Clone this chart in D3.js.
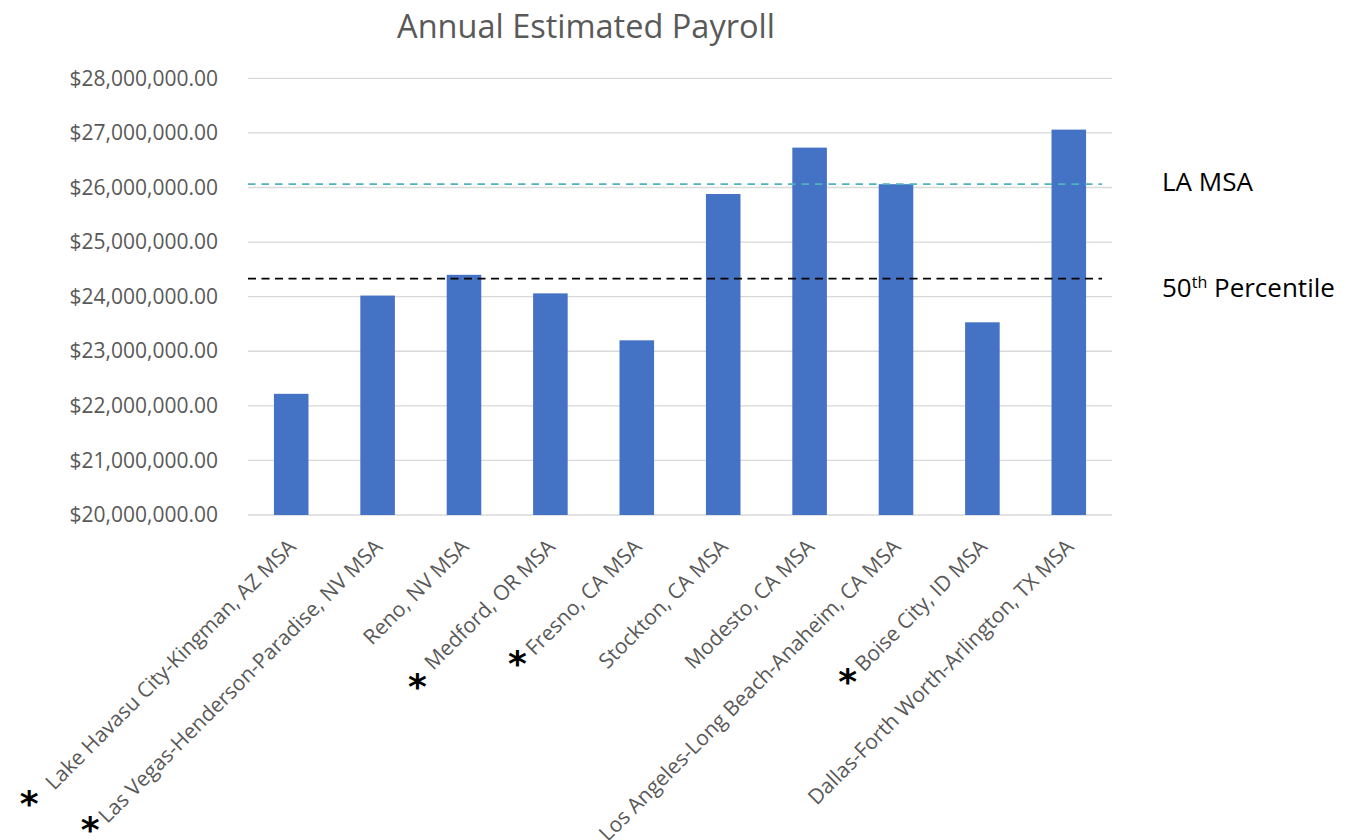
<!DOCTYPE html>
<html>
<head>
<meta charset="utf-8">
<script src="https://cdn.jsdelivr.net/npm/d3@7"></script>
<style>
  html, body { margin: 0; padding: 0; background: #fff; }
  svg { display: block; font-family: "Open Sans", "Noto Sans", sans-serif; }
</style>
</head>
<body>
<svg id="chart" width="1365" height="840"></svg>
<script>
// Metro areas and their annual estimated payroll (USD)
const categories = [
  "Lake Havasu City-Kingman, AZ MSA",
  "Las Vegas-Henderson-Paradise, NV MSA",
  "Reno, NV MSA",
  "Medford, OR MSA",
  "Fresno, CA MSA",
  "Stockton, CA MSA",
  "Modesto, CA MSA",
  "Los Angeles-Long Beach-Anaheim, CA MSA",
  "Boise City, ID MSA",
  "Dallas-Forth Worth-Arlington, TX MSA"
];
const payroll = [
  22220000, 24020000, 24400000, 24060000, 23200000,
  25880000, 26730000, 26060000, 23530000, 27060000
];
// Reference levels drawn as dashed lines
const laMsaLevel = 26060000;
const percentile50Level = 24330000;
// Areas marked with an asterisk
const flagged = [
  "Lake Havasu City-Kingman, AZ MSA",
  "Las Vegas-Henderson-Paradise, NV MSA",
  "Medford, OR MSA",
  "Fresno, CA MSA",
  "Boise City, ID MSA"
];
const yTicks = [20000000, 21000000, 22000000, 23000000, 24000000,
                25000000, 26000000, 27000000, 28000000];
const titleText = "Annual Estimated Payroll";

const svg = d3.select("#chart");
const plot = { left: 248, right: 1112, top: 78.3, bottom: 515 };

const x = d3.scaleBand()
  .domain(categories)
  .range([plot.left, plot.right])
  .paddingInner(0.6)
  .paddingOuter(0.3);

const y = d3.scaleLinear()
  .domain([20000000, 28000000])
  .range([plot.bottom, plot.top]);

// Title
svg.append("text")
  .attr("x", 586)
  .attr("y", 38)
  .attr("text-anchor", "middle")
  .attr("fill", "#595959")
  .style("font-size", "32.5px")
  .text(titleText);

// Horizontal gridlines
svg.append("g")
  .selectAll("line")
  .data(yTicks)
  .join("line")
  .attr("x1", plot.left)
  .attr("x2", plot.right)
  .attr("y1", d => y(d))
  .attr("y2", d => y(d))
  .attr("stroke", "#D9D9D9")
  .attr("stroke-width", 1.3);

// Y axis labels
const yAxis = svg.append("g")
  .attr("transform", `translate(${plot.left - 30},0)`)
  .call(d3.axisLeft(y).tickValues(yTicks).tickFormat(d3.format("$,.2f")).tickSize(0).tickPadding(0));
yAxis.select(".domain").remove();
yAxis.selectAll("text")
  .attr("fill", "#595959")
  .style("font-size", "21px")
  .style("font-family", "'Open Sans', sans-serif");

// Bars
svg.append("g")
  .selectAll("rect")
  .data(categories.map((c, i) => ({ c, v: payroll[i] })))
  .join("rect")
  .attr("x", d => x(d.c))
  .attr("width", x.bandwidth())
  .attr("y", d => y(d.v))
  .attr("height", d => y(20000000) - y(d.v))
  .attr("fill", "#4472C4");

// Reference lines
const refLines = [
  { v: laMsaLevel, color: "#4FB3BF", dash: "7.5,6" },
  { v: percentile50Level, color: "#000000", dash: "8,5.5" }
];
svg.append("g")
  .selectAll("line")
  .data(refLines)
  .join("line")
  .attr("x1", plot.left)
  .attr("x2", 1102)
  .attr("y1", d => y(d.v))
  .attr("y2", d => y(d.v))
  .attr("stroke", d => d.color)
  .attr("stroke-width", 1.8)
  .attr("stroke-dasharray", d => d.dash);

// Reference line labels
svg.append("text")
  .attr("x", 1162)
  .attr("y", y(laMsaLevel) + 7)
  .attr("fill", "#000")
  .style("font-size", "26px")
  .text("LA MSA");

const pct = svg.append("text")
  .attr("x", 1162)
  .attr("y", y(percentile50Level) + 18)
  .attr("fill", "#000")
  .style("font-size", "26px");
pct.append("tspan").text("50");
pct.append("tspan").attr("dy", -9).style("font-size", "16px").text("th");
pct.append("tspan").attr("dy", 9).text(" Percentile");

// Category labels, rotated
const xAxis = svg.append("g")
  .attr("transform", `translate(0,${plot.bottom})`)
  .call(d3.axisBottom(x).tickSize(0).tickPadding(0));
xAxis.select(".domain").remove();
xAxis.selectAll("text")
  .attr("fill", "#595959")
  .style("font-size", "21px")
  .style("font-family", "'Open Sans', sans-serif")
  .attr("text-anchor", "end")
  .attr("dy", 0)
  .attr("y", 0)
  .attr("transform", "translate(6,33) rotate(-45)");

// Asterisks placed just before the start of each flagged label
const nudge = {
  "Lake Havasu City-Kingman, AZ MSA": [-25, 5],
  "Las Vegas-Henderson-Paradise, NV MSA": [-17, -2],
  "Medford, OR MSA": [-16, 8],
  "Fresno, CA MSA": [-17, 0],
  "Boise City, ID MSA": [-16, 1]
};
xAxis.selectAll(".tick").each(function(d) {
  if (!flagged.includes(d)) return;
  const t = d3.select(this).select("text").node();
  const len = t.getComputedTextLength();
  const cx = x(d) + x.bandwidth() / 2 + 6 - len * Math.SQRT1_2;
  const cy = plot.bottom + 33 + len * Math.SQRT1_2;
  const n = nudge[d];
  svg.append("text")
    .attr("x", cx + n[0])
    .attr("y", cy + n[1] + 20)
    .attr("text-anchor", "middle")
    .attr("fill", "#000")
    .style("font-size", "36px")
    .style("font-weight", "bold")
    .style("font-family", "'DejaVu Sans', sans-serif")
    .text("*");
});
</script>
</body>
</html>
